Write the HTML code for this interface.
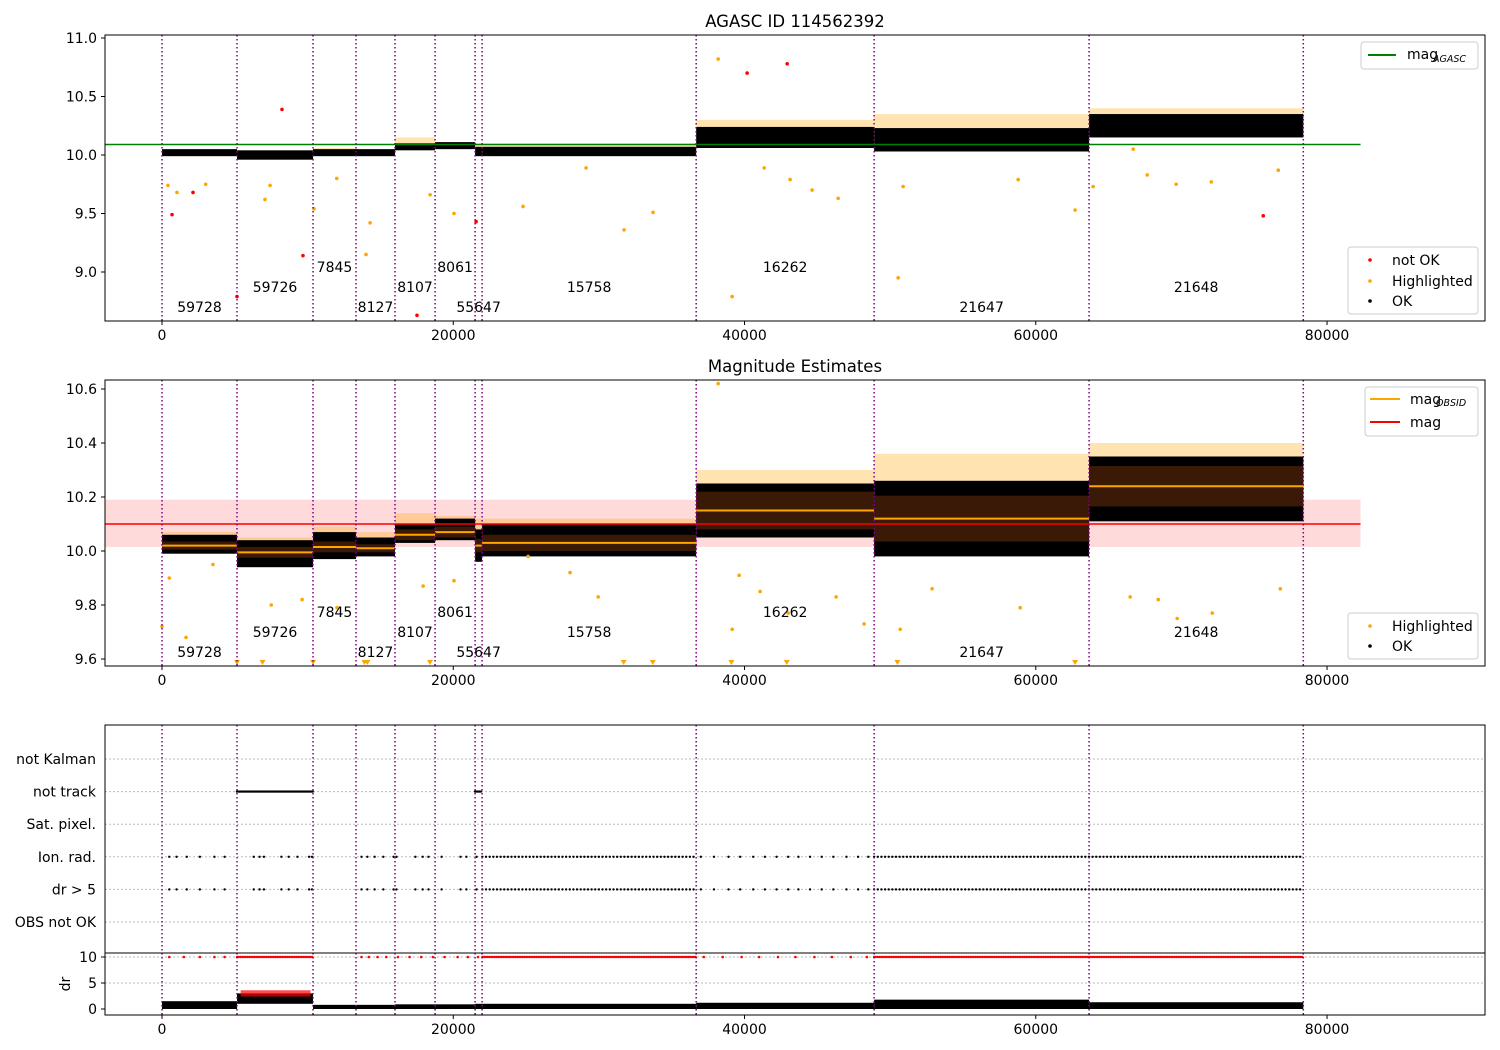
<!DOCTYPE html>
<html><head><meta charset="utf-8"><style>
body{margin:0;background:#fff}
svg{display:block;font-family:"DejaVu Sans","Liberation Sans",sans-serif}
</style></head><body>
<svg id="c" width="1500" height="1050" xmlns="http://www.w3.org/2000/svg"></svg>
<script>
const segStart=[0,5150,10370,13320,16000,18750,21500,21980,36680,48900,63660];
const segEnd=[5150,10370,13320,16000,18750,21500,21980,36680,48900,63660,78370];
const obsids=["59728","59726","7845","8127","8107","8061","55647","15758","16262","21647","21648"];
const mag1Mean=[10.02,10.0,10.02,10.02,10.07,10.08,10.03,10.03,10.15,10.13,10.25];
const mag1Half=[0.03,0.04,0.03,0.03,0.03,0.03,0.04,0.04,0.09,0.1,0.1];
const mag1OrangeTop=[10.05,10.03,10.06,10.05,10.15,10.11,10.1,10.1,10.3,10.35,10.4];
const mag2Mean=[10.02,9.995,10.015,10.01,10.06,10.07,10.02,10.03,10.15,10.12,10.24];
const mag2Lo=[9.99,9.94,9.97,9.98,10.03,10.04,9.96,9.98,10.05,9.98,10.11];
const mag2Hi=[10.06,10.04,10.07,10.05,10.1,10.12,10.08,10.1,10.25,10.26,10.35];
const mag2Std=[0.015,0.02,0.02,0.015,0.02,0.02,0.025,0.03,0.07,0.085,0.075];
const mag2OrangeTop=[10.07,10.05,10.09,10.07,10.14,10.13,10.12,10.12,10.3,10.36,10.4];
const magAgasc=10.09, magMean=10.10, magLo=10.015, magHi=10.19;
const red1T=[690,2130,5150,8240,9680,17510,21570,40180,42930,75620];
const red1V=[9.49,9.68,8.79,10.39,9.14,8.63,9.43,10.70,10.78,9.48];
const org1T=[38190,39150,50550,14010,31730,33720,24790,18410,62700,63940,50890,41350,44640,46430,43130,58790,69640,72050,67650,76650,10440,7070,7420,410,1030,14290,20050,29120,66690,3000,12000];
const org1V=[10.82,8.79,8.95,9.15,9.36,9.51,9.56,9.66,9.53,9.73,9.73,9.89,9.70,9.63,9.79,9.79,9.75,9.77,9.83,9.87,9.54,9.62,9.74,9.74,9.68,9.42,9.50,9.89,10.05,9.75,9.8];
const org2T=[38190,39150,0,1650,9620,12020,17930,20050,25140,28020,29950,39630,41070,46290,48210,50690,52880,58930,66480,68410,69710,72120,76790,500,3500,7500,43000];
const org2V=[10.62,9.71,9.72,9.68,9.82,9.79,9.87,9.89,9.98,9.92,9.83,9.91,9.85,9.83,9.73,9.71,9.86,9.79,9.83,9.82,9.75,9.77,9.86,9.9,9.95,9.8,9.77];
const clipT=[5150,6900,10370,13900,14100,18400,31700,33700,39100,42900,50500,62700];
const flagCats=["OBS not OK","dr > 5","Ion. rad.","Sat. pixel.","not track","not Kalman"];
const notTrackIntervals=[[5150,10370],[21500,21980]];
const ionDense=[[22000,36680],[48900,78370]];
const ionSparse=[500,1000,1700,2600,3600,4300,6300,6700,7000,8200,8700,9300,10100,10300,13700,14100,14600,15200,15900,16100,17400,17900,18300,19200,20500,20900,21600,37000,37900,38900,39700,40600,41400,42200,43000,43700,44500,45300,46100,47000,47800,48500];
const drLo=[0,1,0,0,0,0,0,0,0,0,0];
const drHi=[1.5,3,0.8,0.8,0.9,0.9,1,1,1.2,1.8,1.3];
const drRedDense=[[5150,10370],[22000,36680],[48900,78370]];
const drRedSparse=[500,1500,2600,3600,4300,13700,14200,14800,15400,16200,17000,17800,18600,19400,20300,21000,21700,37200,38500,39800,41000,42300,43500,44800,46000,47300,48400];
const xTicks=[0,20000,40000,60000,80000];

const NS="http://www.w3.org/2000/svg", svg=document.getElementById("c");
const X=v=>162+v*0.014563;
const y1=v=>155-(v-10)*117, y2=v=>551-(v-10)*270, yc=i=>922-i*32.6, yd=v=>1009-v*5.2;
function el(t,a,p){const e=document.createElementNS(NS,t);for(const k in a)e.setAttribute(k,a[k]);(p||svg).appendChild(e);return e;}
function txt(s,a,p){const e=el("text",a,p);e.textContent=s;return e;}
function clip(id,y0,y1_){const d=el("defs",{});const c=el("clipPath",{id:id},d);el("rect",{x:105,y:y0,width:1380,height:y1_-y0},c);}
clip("c1",35,321);clip("c2",380,666);clip("c3",725,953);clip("c4",953,1015);
const FS=14;
function xAxis(yb,showLabels){
  xTicks.forEach(t=>{el("line",{x1:X(t),x2:X(t),y1:yb,y2:yb+4,stroke:"#000"});
    if(showLabels){const l=txt(String(t),{x:X(t),y:yb+19,"text-anchor":"middle","font-size":FS});
    
    }});
}
function yTicks(vals,f,fmt){vals.forEach(v=>{el("line",{x1:101,x2:105,y1:f(v),y2:f(v),stroke:"#000"});
  const l=txt(fmt(v),{x:97,y:f(v)+5,"text-anchor":"end","font-size":FS});
  
  });}
function vlines(g,y0,y1_){segStart.concat([segEnd[segEnd.length-1]]).forEach(t=>{const l=el("line",{x1:X(t),x2:X(t),y1:y0,y2:y1_,stroke:"#800080","stroke-width":1.5,"stroke-dasharray":"1.5,2.5"},g);
  
  });}
function obsLabels(g,yb){obsids.forEach((o,i)=>{const lv=[0,20,40][i%3];const l=txt(o,{x:X((segStart[i]+segEnd[i])/2),y:yb-9-lv,"text-anchor":"middle","font-size":FS},g);
  
  });}
function dots(g,T,V,f,col,r){T.forEach((t,i)=>{const c=el("circle",{cx:X(t),cy:f(V[i]),r:r,fill:col},g);
  
  });}

// Panel 1
txt("AGASC ID 114562392",{x:795,y:27,"text-anchor":"middle","font-size":16.5});
let g1=el("g",{"clip-path":"url(#c1)"});
segStart.forEach((s,i)=>{
  el("rect",{x:X(s),y:y1(mag1OrangeTop[i]),width:X(segEnd[i])-X(s),height:y1(mag1Mean[i])-y1(mag1OrangeTop[i]),fill:"orange",opacity:0.3},g1);
  const b=el("rect",{x:X(s),y:y1(mag1Mean[i]+mag1Half[i]),width:X(segEnd[i])-X(s),height:mag1Half[i]*2*117,fill:"#000"},g1);
  
});
dots(g1,org1T,org1V,y1,"orange",1.8);dots(g1,red1T,red1V,y1,"red",1.8);
el("line",{x1:X(-3900),x2:X(82300),y1:y1(magAgasc),y2:y1(magAgasc),stroke:"green","stroke-width":1.5},g1);
vlines(g1,35,321);obsLabels(g1,321);
el("rect",{x:105,y:35,width:1380,height:286,fill:"none",stroke:"#000"});
xAxis(321,true);yTicks([9.0,9.5,10.0,10.5,11.0],y1,v=>v.toFixed(1));
let lg=el("g",{});
el("rect",{x:1361,y:42,width:117,height:27,rx:3,fill:"#fff",stroke:"#ccc"},lg);
el("line",{x1:1368,x2:1396,y1:55,y2:55,stroke:"green","stroke-width":2},lg);
txt("mag",{x:1407,y:59,"font-size":FS},lg);txt("AGASC",{x:1433,y:62,"font-size":9.5,"font-style":"italic"},lg);
let lg2=el("g",{});
el("rect",{x:1348,y:247,width:130,height:67,rx:3,fill:"#fff",stroke:"#ccc"},lg2);
[["not OK","red",260],["Highlighted","orange",281],["OK","#000",301]].forEach(([s,c,y])=>{el("circle",{cx:1370,cy:y,r:1.8,fill:c},lg2);txt(s,{x:1392,y:y+5,"font-size":FS},lg2);});

// Panel 2
txt("Magnitude Estimates",{x:795,y:372,"text-anchor":"middle","font-size":16.5});
let g2=el("g",{"clip-path":"url(#c2)"});
el("rect",{x:X(-3900),y:y2(magHi),width:X(82300)-X(-3900),height:y2(magLo)-y2(magHi),fill:"#ffdada"},g2);
segStart.forEach((s,i)=>{const w=X(segEnd[i])-X(s);
  el("rect",{x:X(s),y:y2(mag2OrangeTop[i]),width:w,height:y2(mag2Mean[i])-y2(mag2OrangeTop[i]),fill:"orange",opacity:0.3},g2);
  el("rect",{x:X(s),y:y2(mag2Hi[i]),width:w,height:y2(mag2Lo[i])-y2(mag2Hi[i]),fill:"#000"},g2);
  el("rect",{x:X(s),y:y2(mag2Mean[i]+mag2Std[i]),width:w,height:mag2Std[i]*2*270,fill:"#3a1a06"},g2);
  el("line",{x1:X(s),x2:X(segEnd[i]),y1:y2(mag2Mean[i]),y2:y2(mag2Mean[i]),stroke:"orange","stroke-width":2},g2);
});
el("line",{x1:X(-3900),x2:X(82300),y1:y2(magMean),y2:y2(magMean),stroke:"red","stroke-width":1.5},g2);
dots(g2,org2T,org2V,y2,"orange",1.8);
clipT.forEach(t=>{const p=el("path",{d:`M${X(t)-3},660 h6 l-3,5 z`,fill:"orange"},g2);});
vlines(g2,380,666);obsLabels(g2,666);
el("rect",{x:105,y:380,width:1380,height:286,fill:"none",stroke:"#000"});
xAxis(666,true);yTicks([9.6,9.8,10.0,10.2,10.4,10.6],y2,v=>v.toFixed(1));
let lg3=el("g",{});
el("rect",{x:1365,y:387,width:113,height:49,rx:3,fill:"#fff",stroke:"#ccc"},lg3);
el("line",{x1:1370,x2:1400,y1:399,y2:399,stroke:"orange","stroke-width":2},lg3);
txt("mag",{x:1410,y:404,"font-size":FS},lg3);txt("OBSID",{x:1436,y:406,"font-size":9.5,"font-style":"italic"},lg3);
el("line",{x1:1370,x2:1400,y1:422,y2:422,stroke:"red","stroke-width":2},lg3);txt("mag",{x:1410,y:427,"font-size":FS},lg3);
let lg4=el("g",{});
el("rect",{x:1348,y:613,width:130,height:46,rx:3,fill:"#fff",stroke:"#ccc"},lg4);
[["Highlighted","orange",626],["OK","#000",646]].forEach(([s,c,y])=>{el("circle",{cx:1370,cy:y,r:1.8,fill:c},lg4);txt(s,{x:1392,y:y+5,"font-size":FS},lg4);});

// Panel 3 flags
let g3=el("g",{"clip-path":"url(#c3)"});
flagCats.forEach((c,i)=>{el("line",{x1:105,x2:1485,y1:yc(i),y2:yc(i),stroke:"#bbb","stroke-dasharray":"2,2"},g3);
  const l=txt(c,{x:96,y:yc(i)+5,"text-anchor":"end","font-size":FS});});
function intervalDots(g,iv,step,y,col){iv.forEach(([a,b])=>{for(let t=a;t<=b;t+=step){el("circle",{cx:X(t),cy:y,r:1.2,fill:col},g);}});}
intervalDots(g3,notTrackIntervals,100,yc(4),"#000");
[2,1].forEach(i=>{intervalDots(g3,ionDense,250,yc(i),"#000");ionSparse.forEach(t=>el("circle",{cx:X(t),cy:yc(i),r:1.2,fill:"#000"},g3));});
vlines(g3,725,953);
el("rect",{x:105,y:725,width:1380,height:228,fill:"none",stroke:"#000"});

// Panel 4 dr
let g4=el("g",{"clip-path":"url(#c4)"});
[5,10].forEach(v=>el("line",{x1:105,x2:1485,y1:yd(v),y2:yd(v),stroke:"#bbb","stroke-dasharray":"2,2"},g4));
segStart.forEach((s,i)=>{el("rect",{x:X(s),y:yd(drHi[i]),width:X(segEnd[i])-X(s),height:yd(drLo[i])-yd(drHi[i]),fill:"#000"},g4);});
el("rect",{x:X(5400),y:yd(3.6),width:X(10200)-X(5400),height:yd(2.4)-yd(3.6),fill:"red",opacity:0.7},g4);
intervalDots(g4,drRedDense,120,yd(10),"red");
drRedSparse.forEach(t=>el("circle",{cx:X(t),cy:yd(10),r:1.3,fill:"red"},g4));
vlines(g4,953,1015);
el("rect",{x:105,y:953,width:1380,height:62,fill:"none",stroke:"#000"});
xAxis(1015,true);yTicks([0,5,10],yd,v=>String(v));
txt("dr",{x:70,y:984,"font-size":FS,"text-anchor":"middle",transform:"rotate(-90 70 984)"});
</script>
</body></html>
